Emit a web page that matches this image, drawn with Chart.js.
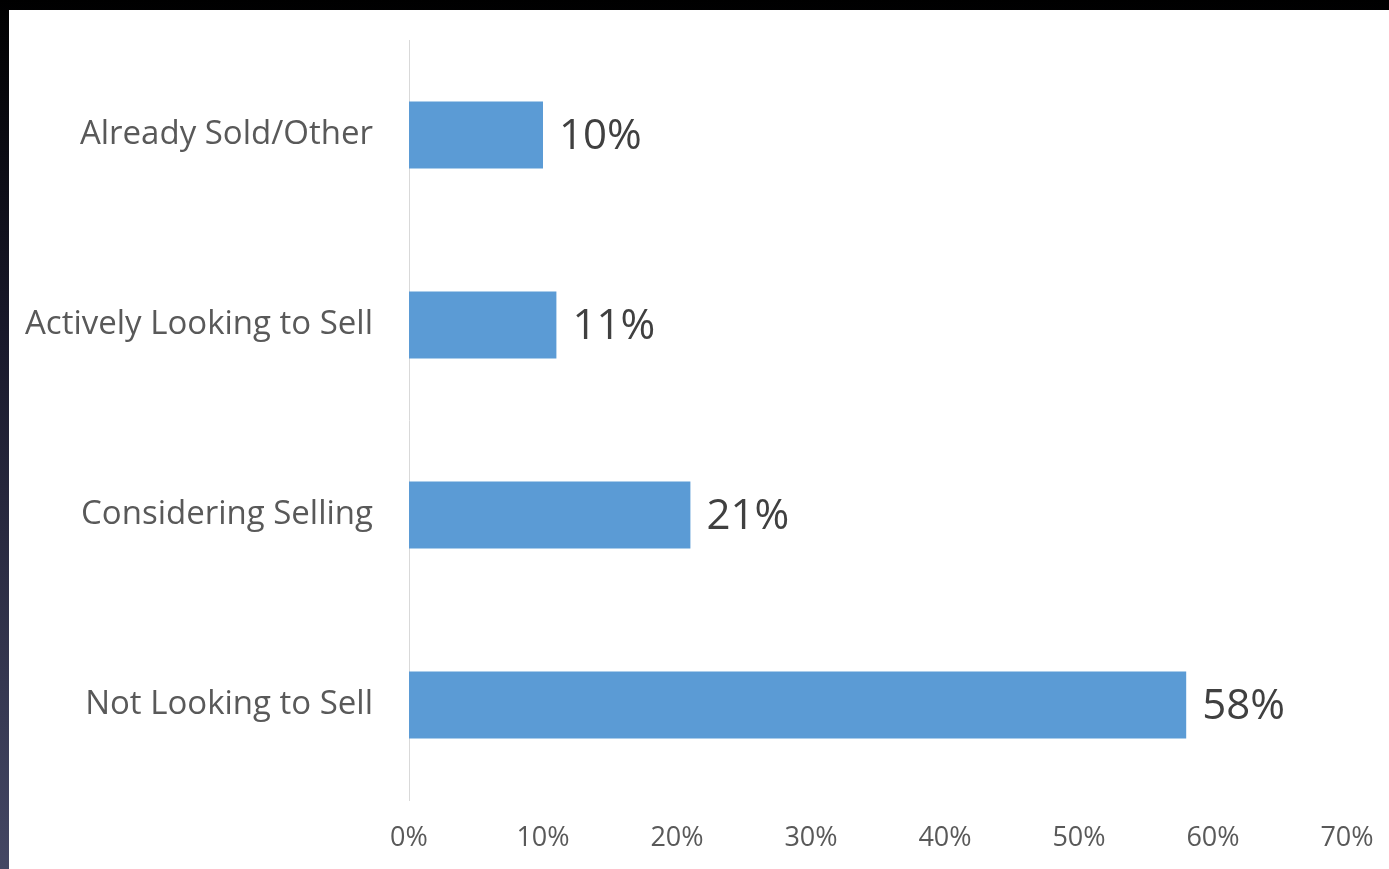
<!DOCTYPE html>
<html lang="en">
<head>
    <meta charset="UTF-8">
    <title>Selling Intentions</title>
    <style>
        html, body {
            margin: 0;
            padding: 0;
            width: 1389px;
            height: 869px;
            overflow: hidden;
            background: linear-gradient(to bottom, #000000 0%, #1a1a2c 40%, #444764 100%);
        }
        .frame {
            position: absolute;
            left: 9px;
            top: 10px;
            width: 1380px;
            height: 859px;
            background: #ffffff;
        }
        canvas { display: block; }
    </style>
</head>
<body>
    <div class="frame">
        <canvas id="chart" width="1380" height="859"></canvas>
    </div>

    <script src="https://cdn.jsdelivr.net/npm/chart.js"></script>
    <script>
        // chart data
        const categories = ['Already Sold/Other', 'Actively Looking to Sell', 'Considering Selling', 'Not Looking to Sell'];
        const shares = [10, 11, 21, 58];
        const axisTicks = [0, 10, 20, 30, 40, 50, 60, 70];

        const FONT = "'Open Sans', 'Noto Sans', sans-serif";

        // writes the percentage just past the end of each bar
        const barValueLabels = {
            id: 'barValueLabels',
            afterDatasetsDraw(chart) {
                const ctx = chart.ctx;
                const meta = chart.getDatasetMeta(0);
                ctx.save();
                ctx.font = '42px ' + FONT;
                ctx.fillStyle = '#404040';
                ctx.textAlign = 'left';
                ctx.textBaseline = 'middle';
                meta.data.forEach((bar, i) => {
                    ctx.fillText(shares[i] + '%', bar.x + 16, bar.y + 2);
                });
                ctx.restore();
            }
        };

        new Chart(document.getElementById('chart').getContext('2d'), {
            type: 'bar',
            data: {
                labels: categories,
                datasets: [{
                    data: shares,
                    backgroundColor: '#5b9bd5',
                    borderWidth: 0,
                    categoryPercentage: 1.0,
                    barPercentage: 0.353
                }]
            },
            options: {
                indexAxis: 'y',
                responsive: false,
                animation: false,
                layout: { padding: { top: 30, right: 42, left: 0, bottom: 0 } },
                plugins: {
                    legend: { display: false },
                    tooltip: { enabled: false }
                },
                scales: {
                    x: {
                        min: 0,
                        max: 70,
                        afterBuildTicks(scale) {
                            scale.ticks = axisTicks.map(v => ({ value: v }));
                        },
                        afterFit(scale) {
                            scale.height = 69;
                            scale.paddingLeft = 0;
                            scale.paddingRight = 0;
                        },
                        grid: { display: false, drawTicks: false },
                        border: { display: false },
                        ticks: {
                            padding: 22,
                            color: '#595959',
                            font: { family: FONT, size: 27 },
                            callback: v => v + '%'
                        }
                    },
                    y: {
                        afterFit(scale) {
                            scale.width = 400;
                            scale.paddingTop = 0;
                            scale.paddingBottom = 0;
                        },
                        grid: { display: false, drawTicks: false },
                        border: { display: true, color: '#d9d9d9', width: 1 },
                        ticks: {
                            padding: 36,
                            color: '#595959',
                            font: { family: FONT, size: 33 }
                        }
                    }
                }
            },
            plugins: [barValueLabels]
        });
    </script>
</body>
</html>
